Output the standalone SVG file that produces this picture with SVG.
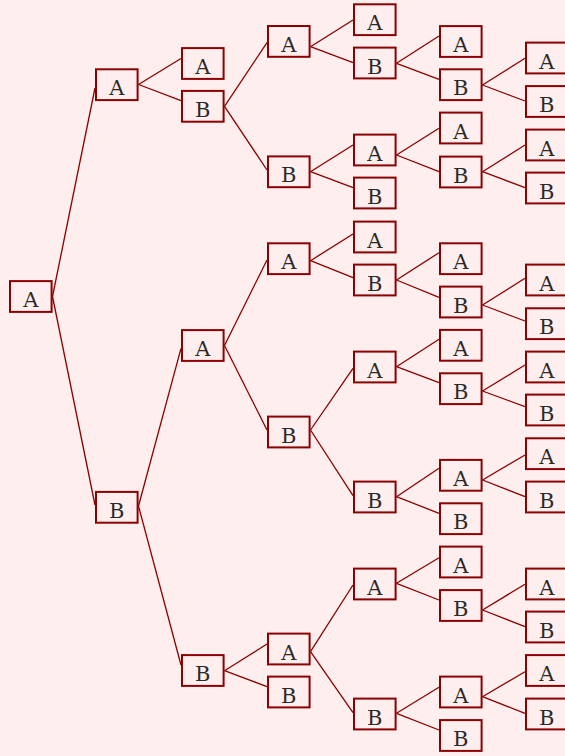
<svg xmlns="http://www.w3.org/2000/svg" width="565" height="756" viewBox="0 0 565 756">
<style>
.bg{fill:#FFEEEE}
.node rect{fill:#FFEEEE;stroke:#8B0000;stroke-width:2}
.node text{font-family:"DejaVu Serif","Liberation Serif",serif;font-size:21px;fill:#2a2a2a;text-anchor:middle}
#edges line{stroke:#8B0000;stroke-width:1.3}
</style>
<rect class="bg" x="0" y="0" width="565" height="756"/>
<g id="edges">
<line x1="52.5" y1="296.5" x2="95" y2="88"/>
<line x1="52.5" y1="296.5" x2="95" y2="505"/>
<line x1="138.5" y1="84.5" x2="181" y2="58.5"/>
<line x1="138.5" y1="84.5" x2="181" y2="100.7"/>
<line x1="224.5" y1="106.3" x2="267" y2="42.7"/>
<line x1="224.5" y1="106.3" x2="267" y2="170"/>
<line x1="138.5" y1="506" x2="181" y2="348.3"/>
<line x1="138.5" y1="506" x2="181" y2="665"/>
<line x1="224.5" y1="345.5" x2="267" y2="260"/>
<line x1="224.5" y1="345.5" x2="267" y2="430"/>
<line x1="224.5" y1="670.7" x2="267" y2="644"/>
<line x1="224.5" y1="670.7" x2="267" y2="686.7"/>
<line x1="310.5" y1="46.7" x2="353" y2="20"/>
<line x1="310.5" y1="46.7" x2="353" y2="62.7"/>
<line x1="396.5" y1="63.3" x2="439" y2="36"/>
<line x1="396.5" y1="63.3" x2="439" y2="79.3"/>
<line x1="482.5" y1="85" x2="525" y2="58.3"/>
<line x1="482.5" y1="85" x2="525" y2="101"/>
<line x1="310.5" y1="171.7" x2="353" y2="145"/>
<line x1="310.5" y1="171.7" x2="353" y2="187.7"/>
<line x1="396.5" y1="155" x2="439" y2="128.3"/>
<line x1="396.5" y1="155" x2="439" y2="171.7"/>
<line x1="482.5" y1="171.7" x2="525" y2="145"/>
<line x1="482.5" y1="171.7" x2="525" y2="187.7"/>
<line x1="310.5" y1="260.7" x2="353" y2="234"/>
<line x1="310.5" y1="260.7" x2="353" y2="277.7"/>
<line x1="396.5" y1="280" x2="439" y2="252.7"/>
<line x1="396.5" y1="280" x2="439" y2="297.3"/>
<line x1="482.5" y1="305" x2="525" y2="278.3"/>
<line x1="482.5" y1="305" x2="525" y2="321"/>
<line x1="310.5" y1="430" x2="353" y2="368.3"/>
<line x1="310.5" y1="430" x2="353" y2="495.7"/>
<line x1="396.5" y1="366.7" x2="439" y2="339.3"/>
<line x1="396.5" y1="366.7" x2="439" y2="382.7"/>
<line x1="482.5" y1="391" x2="525" y2="365"/>
<line x1="482.5" y1="391" x2="525" y2="406.7"/>
<line x1="396.5" y1="496.7" x2="439" y2="468.3"/>
<line x1="396.5" y1="496.7" x2="439" y2="513.3"/>
<line x1="482.5" y1="480" x2="525" y2="455"/>
<line x1="482.5" y1="480" x2="525" y2="496.7"/>
<line x1="310.5" y1="651.7" x2="353" y2="585"/>
<line x1="310.5" y1="651.7" x2="353" y2="712.7"/>
<line x1="396.5" y1="583.3" x2="439" y2="557.7"/>
<line x1="396.5" y1="583.3" x2="439" y2="600"/>
<line x1="482.5" y1="610" x2="525" y2="584.3"/>
<line x1="482.5" y1="610" x2="525" y2="626.7"/>
<line x1="396.5" y1="713.3" x2="439" y2="687.3"/>
<line x1="396.5" y1="713.3" x2="439" y2="730"/>
<line x1="482.5" y1="696.7" x2="525" y2="671.7"/>
<line x1="482.5" y1="696.7" x2="525" y2="713.3"/>
</g>
<g id="n0" class="node"><rect x="10" y="281.1" width="41.6" height="30.8"/><text x="30.8" y="307">A</text></g>
<g id="n1" class="node"><rect x="96" y="69.3" width="41.6" height="30.8"/><text x="116.8" y="95.2">A</text></g>
<g id="n2" class="node"><rect x="182" y="48.1" width="41.6" height="30.8"/><text x="202.8" y="74">A</text></g>
<g id="n3" class="node"><rect x="182" y="90.9" width="41.6" height="30.8"/><text x="202.8" y="116.8">B</text></g>
<g id="n4" class="node"><rect x="268" y="26" width="41.6" height="30.8"/><text x="288.8" y="51.9">A</text></g>
<g id="n5" class="node"><rect x="354" y="4.3" width="41.6" height="30.8"/><text x="374.8" y="30.2">A</text></g>
<g id="n6" class="node"><rect x="354" y="47.6" width="41.6" height="30.8"/><text x="374.8" y="73.5">B</text></g>
<g id="n7" class="node"><rect x="440" y="26.1" width="41.6" height="30.8"/><text x="460.8" y="52">A</text></g>
<g id="n8" class="node"><rect x="440" y="69.3" width="41.6" height="30.8"/><text x="460.8" y="95.2">B</text></g>
<g id="n9" class="node"><rect x="526" y="42.6" width="41.6" height="30.8"/><text x="546.8" y="68.5">A</text></g>
<g id="n10" class="node"><rect x="526" y="86.1" width="41.6" height="30.8"/><text x="546.8" y="112">B</text></g>
<g id="n11" class="node"><rect x="268" y="156.4" width="41.6" height="30.8"/><text x="288.8" y="182.3">B</text></g>
<g id="n12" class="node"><rect x="354" y="134.6" width="41.6" height="30.8"/><text x="374.8" y="160.5">A</text></g>
<g id="n13" class="node"><rect x="440" y="112.6" width="41.6" height="30.8"/><text x="460.8" y="138.5">A</text></g>
<g id="n14" class="node"><rect x="440" y="156.6" width="41.6" height="30.8"/><text x="460.8" y="182.5">B</text></g>
<g id="n15" class="node"><rect x="526" y="129.6" width="41.6" height="30.8"/><text x="546.8" y="155.5">A</text></g>
<g id="n16" class="node"><rect x="526" y="172.6" width="41.6" height="30.8"/><text x="546.8" y="198.5">B</text></g>
<g id="n17" class="node"><rect x="354" y="177.6" width="41.6" height="30.8"/><text x="374.8" y="203.5">B</text></g>
<g id="n18" class="node"><rect x="96" y="491.9" width="41.6" height="30.8"/><text x="116.8" y="517.8">B</text></g>
<g id="n19" class="node"><rect x="182" y="330.1" width="41.6" height="30.8"/><text x="202.8" y="356">A</text></g>
<g id="n20" class="node"><rect x="268" y="243.3" width="41.6" height="30.8"/><text x="288.8" y="269.2">A</text></g>
<g id="n21" class="node"><rect x="354" y="221.6" width="41.6" height="30.8"/><text x="374.8" y="247.5">A</text></g>
<g id="n22" class="node"><rect x="354" y="264.6" width="41.6" height="30.8"/><text x="374.8" y="290.5">B</text></g>
<g id="n23" class="node"><rect x="440" y="243.3" width="41.6" height="30.8"/><text x="460.8" y="269.2">A</text></g>
<g id="n24" class="node"><rect x="440" y="286.6" width="41.6" height="30.8"/><text x="460.8" y="312.5">B</text></g>
<g id="n25" class="node"><rect x="526" y="264.6" width="41.6" height="30.8"/><text x="546.8" y="290.5">A</text></g>
<g id="n26" class="node"><rect x="526" y="308.3" width="41.6" height="30.8"/><text x="546.8" y="334.2">B</text></g>
<g id="n27" class="node"><rect x="268" y="416.6" width="41.6" height="30.8"/><text x="288.8" y="442.5">B</text></g>
<g id="n28" class="node"><rect x="354" y="351.6" width="41.6" height="30.8"/><text x="374.8" y="377.5">A</text></g>
<g id="n29" class="node"><rect x="440" y="329.9" width="41.6" height="30.8"/><text x="460.8" y="355.8">A</text></g>
<g id="n30" class="node"><rect x="440" y="373.3" width="41.6" height="30.8"/><text x="460.8" y="399.2">B</text></g>
<g id="n31" class="node"><rect x="526" y="351.6" width="41.6" height="30.8"/><text x="546.8" y="377.5">A</text></g>
<g id="n32" class="node"><rect x="526" y="394.6" width="41.6" height="30.8"/><text x="546.8" y="420.5">B</text></g>
<g id="n33" class="node"><rect x="354" y="481.6" width="41.6" height="30.8"/><text x="374.8" y="507.5">B</text></g>
<g id="n34" class="node"><rect x="440" y="459.9" width="41.6" height="30.8"/><text x="460.8" y="485.8">A</text></g>
<g id="n35" class="node"><rect x="526" y="438.3" width="41.6" height="30.8"/><text x="546.8" y="464.2">A</text></g>
<g id="n36" class="node"><rect x="526" y="481.6" width="41.6" height="30.8"/><text x="546.8" y="507.5">B</text></g>
<g id="n37" class="node"><rect x="440" y="503.3" width="41.6" height="30.8"/><text x="460.8" y="529.2">B</text></g>
<g id="n38" class="node"><rect x="182" y="655.1" width="41.6" height="30.8"/><text x="202.8" y="681">B</text></g>
<g id="n39" class="node"><rect x="268" y="633.6" width="41.6" height="30.8"/><text x="288.8" y="659.5">A</text></g>
<g id="n40" class="node"><rect x="354" y="568.6" width="41.6" height="30.8"/><text x="374.8" y="594.5">A</text></g>
<g id="n41" class="node"><rect x="440" y="546.6" width="41.6" height="30.8"/><text x="460.8" y="572.5">A</text></g>
<g id="n42" class="node"><rect x="440" y="590.1" width="41.6" height="30.8"/><text x="460.8" y="616">B</text></g>
<g id="n43" class="node"><rect x="526" y="568.6" width="41.6" height="30.8"/><text x="546.8" y="594.5">A</text></g>
<g id="n44" class="node"><rect x="526" y="611.6" width="41.6" height="30.8"/><text x="546.8" y="637.5">B</text></g>
<g id="n45" class="node"><rect x="354" y="698.6" width="41.6" height="30.8"/><text x="374.8" y="724.5">B</text></g>
<g id="n46" class="node"><rect x="440" y="676.6" width="41.6" height="30.8"/><text x="460.8" y="702.5">A</text></g>
<g id="n47" class="node"><rect x="526" y="655.1" width="41.6" height="30.8"/><text x="546.8" y="681">A</text></g>
<g id="n48" class="node"><rect x="526" y="698.6" width="41.6" height="30.8"/><text x="546.8" y="724.5">B</text></g>
<g id="n49" class="node"><rect x="440" y="720.1" width="41.6" height="30.8"/><text x="460.8" y="746">B</text></g>
<g id="n50" class="node"><rect x="268" y="676.6" width="41.6" height="30.8"/><text x="288.8" y="702.5">B</text></g>
</svg>
